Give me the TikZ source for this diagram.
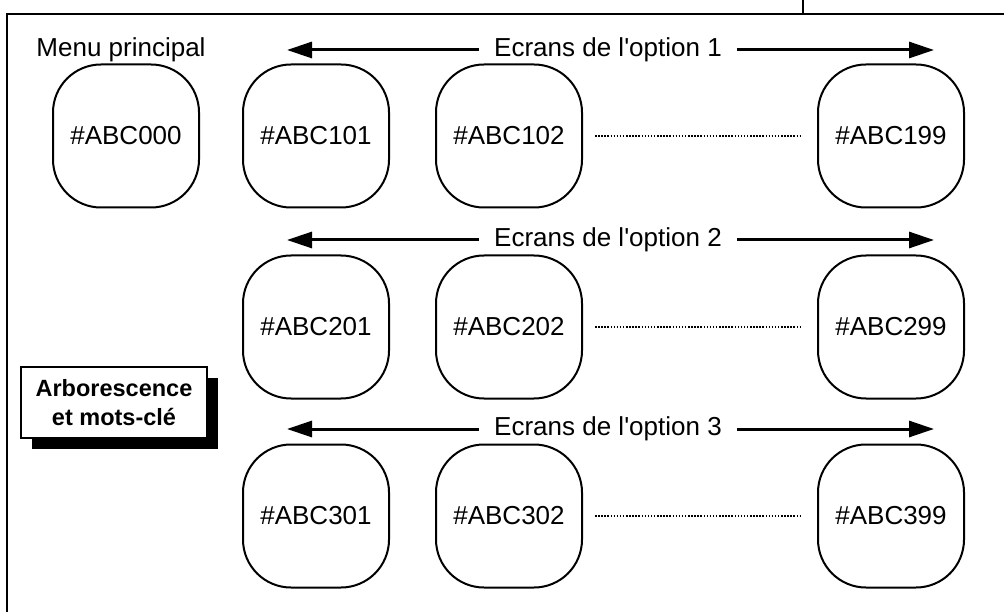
\documentclass[tikz,border=0pt]{standalone}
\usepackage{fontspec}
\setmainfont{Liberation Sans}
\usetikzlibrary{arrows.meta,shadows}
\begin{document}
\begin{tikzpicture}[x=1pt,y=-1pt,
  txt/.style={font=\fontsize{26}{30}\selectfont, inner sep=0pt},
  screen/.style={draw, line width=2pt, rounded corners=48pt, minimum width=146pt, minimum height=143pt, font=\fontsize{26}{30}\selectfont, inner sep=0pt},
  arr/.style={line width=3pt, -{Triangle[length=25pt,width=16pt]}},
  dots/.style={line width=2.6pt, dash pattern=on 1.5pt off 1.6pt, shorten <=12pt, shorten >=16pt},
  frameline/.style={line width=1.8pt},
  label/.style={draw, line width=1.8pt, fill=white, minimum width=186pt, minimum height=71pt, align=center, inner sep=0pt,
    font=\fontsize{23.5}{29}\selectfont\bfseries,
    drop shadow={shadow xshift=11pt, shadow yshift=-11pt, fill=black, opacity=1}}
]
\useasboundingbox (0,0) rectangle (1004,612);
% frame
\coordinate (fa) at (7,612);
\coordinate (fb) at (7,14);
\coordinate (fc) at (1004,14);
\coordinate (va) at (803,0);
\coordinate (vb) at (803,14);
\draw[frameline] (fa) -- (fb) -- (fc);
\draw[frameline] (va) -- (vb);

% menu principal
\node[txt] (menu) at (121,50) {Menu principal};
\node[screen] (b000) at (126,136) {\#ABC000};

% rows
\foreach \r/\y/\ay in {1/136/50, 2/327/240, 3/516/429} {
  \node[screen] (b\r01) at (316,\y) {\#ABC\r01};
  \node[screen] (b\r02) at (509,\y) {\#ABC\r02};
  \node[screen] (b\r99) at (891,\y) {\#ABC\r99};
  \draw[dots] (b\r02.east) -- (b\r99.west);
  \node[txt, inner xsep=15pt] (t\r) at (608,\ay) {Ecrans de l\textquotesingle option \r};
  \coordinate (L\r) at (287,\ay);
  \coordinate (R\r) at (934,\ay);
  \draw[arr] (t\r.west) -- (L\r);
  \draw[arr] (t\r.east) -- (R\r);
}

% label box
\node[label] (lab) at (114,402.5) {Arborescence\\et mots-cl\'e};
\end{tikzpicture}
\end{document}
